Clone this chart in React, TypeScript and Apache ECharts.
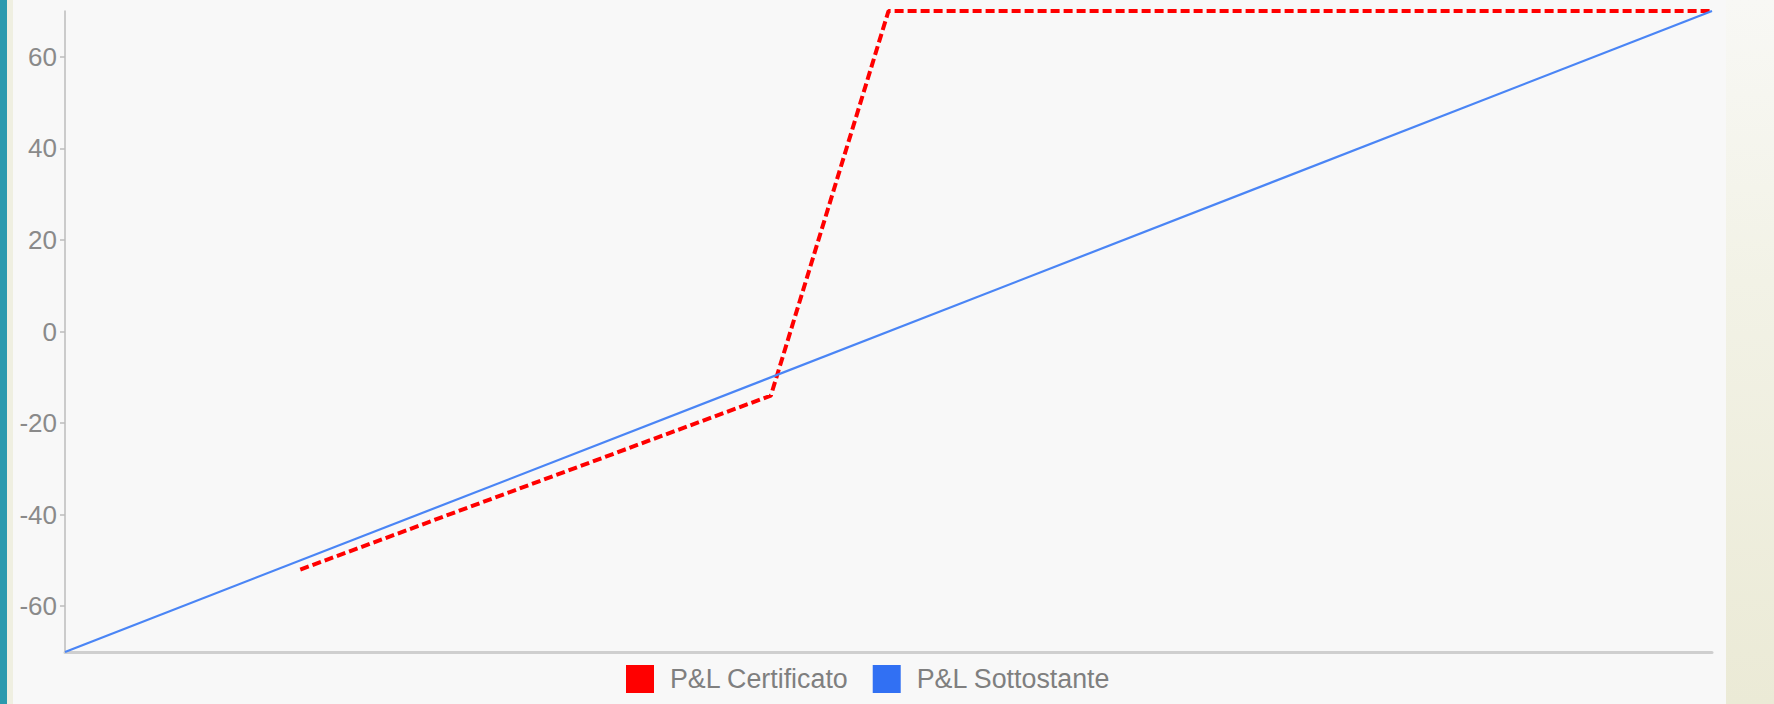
import React, { useEffect, useRef } from "react";
import * as echarts from "echarts";

const underlyingX = [-70, 70];
const underlyingPL = [-70, 70];
const certX = [-50, -10, 0, 70];
const certPL = [-52, -14, 70, 70];
const yTicks = [-60, -40, -20, 0, 20, 40, 60];
const seriesNames = ["P&L Certificato", "P&L Sottostante"];

const W = 1774;
const H = 704;

export default function App() {
  const ref = useRef<HTMLDivElement>(null);
  useEffect(() => {
    if (!ref.current) return;
    const chart = echarts.init(ref.current, undefined, { renderer: "svg" });
    const font = "'Liberation Sans', Arial, Helvetica, sans-serif";
    chart.setOption({
      animation: false,
      backgroundColor: "#f8f8f8",
      graphic: [
        { type: "rect", left: 0, top: 0, shape: { width: 7, height: H }, style: { fill: "#2b9aae" }, z: -10 },
        { type: "rect", left: 7, top: 0, shape: { width: 6, height: H }, style: { fill: "#efefe1" }, z: -10 },
        {
          type: "rect",
          left: 1726,
          top: 0,
          shape: { width: W - 1726, height: H },
          style: {
            fill: new echarts.graphic.LinearGradient(0, 0, 0, 1, [
              { offset: 0, color: "#f8f8f5" },
              { offset: 0.4, color: "#f2f2e6" },
              { offset: 1, color: "#ebead6" },
            ]),
          },
          z: -10,
        },
      ],
      grid: { left: 65, top: 11, width: 1647, height: 641, containLabel: false },
      legend: {
        left: 626,
        top: 665,
        padding: 0,
        icon: "rect",
        itemWidth: 28,
        itemHeight: 28,
        itemGap: 24,
        data: seriesNames,
        itemStyle: { borderWidth: 0 },
        textStyle: { color: "#7f7f7f", fontSize: 26.8, fontFamily: font, padding: [0, 0, 0, 11] },
      },
      xAxis: {
        type: "value",
        min: -70,
        max: 70,
        axisLine: { show: true, onZero: false, lineStyle: { color: "#cfcfcf", width: 3 } },
        axisTick: { show: false },
        axisLabel: { show: false },
        splitLine: { show: false },
      },
      yAxis: {
        type: "value",
        min: -70,
        max: 70,
        axisLine: { show: true, onZero: false, lineStyle: { color: "#bdbdbd", width: 1.5 } },
        axisTick: { show: true, length: 5, customValues: yTicks, lineStyle: { color: "#bdbdbd", width: 1.5 } },
        axisLabel: {
          customValues: yTicks,
          margin: 8,
          color: "#8a8a8a",
          fontSize: 26,
          fontFamily: font,
        },
        splitLine: { show: false },
      },
      series: [
        {
          name: seriesNames[0],
          type: "line",
          data: certX.map((x, i) => [x, certPL[i]]),
          showSymbol: false,
          symbol: "none",
          color: "#ff0000",
          itemStyle: { color: "#ff0000" },
          lineStyle: { color: "#ff0000", width: 4, type: [9, 4] },
        },
        {
          name: seriesNames[1],
          type: "line",
          data: underlyingX.map((x, i) => [x, underlyingPL[i]]),
          showSymbol: false,
          symbol: "none",
          color: "#3170f3",
          itemStyle: { color: "#3170f3" },
          lineStyle: { color: "#4a85f5", width: 2.2 },
        },
      ],
    });
    return () => chart.dispose();
  }, []);
  return (
    <div
      ref={ref}
      style={{ position: "fixed", left: 0, top: 0, width: W, height: H }}
    />
  );
}
